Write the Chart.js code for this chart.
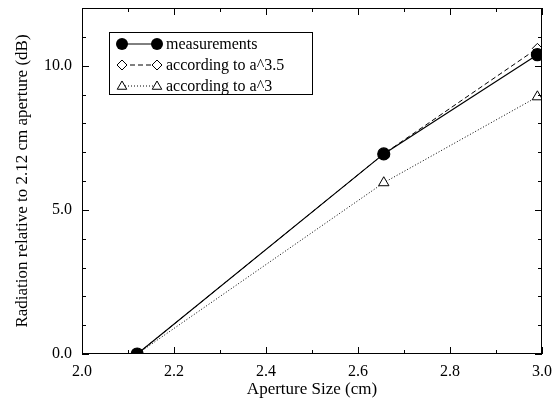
<!DOCTYPE html>
<html>
<head>
<meta charset="utf-8">
<script src="https://cdn.jsdelivr.net/npm/chart.js@4.4.0/dist/chart.umd.min.js"></script>
<style>
  html, body { margin: 0; padding: 0; background: #fff; }
  #wrap { width: 558px; height: 404px; }
</style>
</head>
<body>
<div id="wrap"><canvas id="myChart" width="558" height="404"></canvas></div>
<script>
// values
const apertures = [2.12, 2.656, 2.99];
const measured = [0, 6.94, 10.38];
const accordingA35 = [0, 6.94, 10.6];
const accordingA3 = [0, 5.94, 8.92];
const xTicks = [2.0, 2.2, 2.4, 2.6, 2.8, 3.0];
const yTicks = [0, 5, 10];
const legendLabels = ["measurements", "according to a^3.5", "according to a^3"];

const serif = "'Liberation Serif', 'DejaVu Serif', serif";

function toPoints(ys) {
  return apertures.map((x, i) => ({ x: x, y: ys[i] }));
}

// legend sample: marker, line, marker
function drawMarker(ctx, style, x, y, r) {
  ctx.beginPath();
  if (style === "circle") {
    ctx.arc(x, y, r, 0, Math.PI * 2);
    ctx.fillStyle = "#000";
    ctx.fill();
  } else if (style === "rectRot") {
    ctx.moveTo(x, y - r);
    ctx.lineTo(x + r, y);
    ctx.lineTo(x, y + r);
    ctx.lineTo(x - r, y);
    ctx.closePath();
    ctx.fillStyle = "#fff";
    ctx.fill();
    ctx.stroke();
  } else {
    ctx.moveTo(x, y - r);
    ctx.lineTo(x + r * 0.95, y + r * 0.65);
    ctx.lineTo(x - r * 0.95, y + r * 0.65);
    ctx.closePath();
    ctx.fillStyle = "#fff";
    ctx.fill();
    ctx.stroke();
  }
}

const frame = {
  id: "frame",
  afterDraw(chart) {
    const ctx = chart.ctx;
    const a = chart.chartArea;
    const xs = chart.scales.x;
    const ys = chart.scales.y;
    ctx.save();
    ctx.strokeStyle = "#000";
    ctx.lineWidth = 1;
    ctx.setLineDash([]);
    ctx.strokeRect(a.left + 0.5, a.top + 0.5, a.right - a.left - 1, a.bottom - a.top - 1);

    // inward ticks on all sides
    ctx.beginPath();
    for (let i = 0; i <= 10; i++) {
      const v = 2 + i * 0.1;
      const px = Math.round(xs.getPixelForValue(v)) + 0.5;
      const len = i % 2 === 0 ? 7 : 4;
      ctx.moveTo(px, a.bottom);
      ctx.lineTo(px, a.bottom - len);
      ctx.moveTo(px, a.top);
      ctx.lineTo(px, a.top + len);
    }
    for (let j = 0; j <= 12; j++) {
      const py = Math.round(ys.getPixelForValue(j)) + 0.5;
      const len = j % 5 === 0 ? 7 : 4;
      ctx.moveTo(a.left, py);
      ctx.lineTo(a.left + len, py);
      ctx.moveTo(a.right, py);
      ctx.lineTo(a.right - len, py);
    }
    ctx.stroke();

    // legend box
    const bx = 109, by = 32, bw = 203, bh = 62;
    ctx.fillStyle = "#fff";
    ctx.fillRect(bx, by, bw, bh);
    ctx.strokeRect(bx + 0.5, by + 0.5, bw, bh);
    const styles = ["circle", "rectRot", "triangle"];
    const dashes = [[], [5, 3], [1, 2]];
    ctx.font = "16px " + serif;
    ctx.textBaseline = "middle";
    for (let k = 0; k < 3; k++) {
      const y = by + 12 + k * 21;
      ctx.beginPath();
      ctx.setLineDash(dashes[k]);
      ctx.moveTo(122, y);
      ctx.lineTo(157, y);
      ctx.stroke();
      ctx.setLineDash([]);
      const r = k === 0 ? 6 : 5;
      drawMarker(ctx, styles[k], 122, y, r);
      drawMarker(ctx, styles[k], 157, y, r);
      ctx.fillStyle = "#000";
      ctx.fillText(legendLabels[k], 166, y + 1);
    }
    ctx.restore();
  }
};

new Chart(document.getElementById("myChart"), {
  type: "scatter",
  data: {
    datasets: [
      {
        label: legendLabels[0],
        data: toPoints(measured),
        showLine: true,
        borderColor: "#000",
        borderWidth: 1.2,
        pointStyle: "circle",
        pointRadius: 6,
        pointBackgroundColor: "#000",
        pointBorderColor: "#000",
      },
      {
        label: legendLabels[1],
        data: toPoints(accordingA35),
        showLine: true,
        borderColor: "#000",
        borderWidth: 1,
        borderDash: [5, 3],
        pointStyle: "rectRot",
        pointRadius: 5,
        pointBackgroundColor: "#fff",
        pointBorderColor: "#000",
        pointBorderWidth: 1,
      },
      {
        label: legendLabels[2],
        data: toPoints(accordingA3),
        showLine: true,
        borderColor: "#000",
        borderWidth: 1,
        borderDash: [1, 2],
        pointStyle: "triangle",
        pointRadius: 6,
        pointBackgroundColor: "#fff",
        pointBorderColor: "#000",
        pointBorderWidth: 1,
      },
    ],
  },
  options: {
    responsive: false,
    animation: false,
    events: [],
    layout: { padding: { top: 8, right: 16, left: 0, bottom: 0 } },
    plugins: {
      legend: { display: false },
      tooltip: { enabled: false },
    },
    scales: {
      x: {
        type: "linear",
        min: 2,
        max: 3,
        afterFit(scale) {
          scale.height = 50;
          scale.paddingLeft = 0;
          scale.paddingRight = 0;
        },
        afterBuildTicks(scale) {
          scale.ticks = xTicks.map((v) => ({ value: v }));
        },
        grid: { display: false, drawTicks: false },
        border: { display: false },
        ticks: {
          color: "#000",
          padding: 8,
          maxRotation: 0,
          font: { family: serif, size: 16 },
          callback: (v) => v.toFixed(1),
        },
        title: {
          display: true,
          text: "Aperture Size (cm)",
          color: "#000",
          font: { family: serif, size: 17 },
          padding: { top: 0, bottom: 4 },
        },
      },
      y: {
        type: "linear",
        min: 0,
        max: 12,
        afterFit(scale) {
          scale.width = 82;
          scale.paddingTop = 0;
          scale.paddingBottom = 0;
        },
        afterBuildTicks(scale) {
          scale.ticks = yTicks.map((v) => ({ value: v }));
        },
        grid: { display: false, drawTicks: false },
        border: { display: false },
        ticks: {
          color: "#000",
          padding: 10,
          font: { family: serif, size: 16 },
          callback: (v) => v.toFixed(1),
        },
        title: {
          display: true,
          text: "Radiation relative to 2.12 cm aperture (dB)",
          color: "#000",
          font: { family: serif, size: 17 },
          padding: { top: 12, bottom: 4 },
        },
      },
    },
  },
  plugins: [frame],
});
</script>
</body>
</html>
